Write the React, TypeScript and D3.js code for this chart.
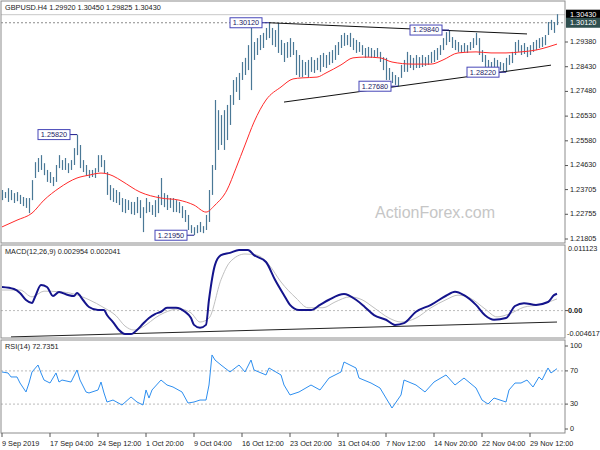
import React from "react";
import * as d3 from "d3";

const W = 600;
const H = 450;

// ---------- DATA ----------
const barHigh = [
  1.2369, 1.2361, 1.2376, 1.2369, 1.2357, 1.2361, 1.2350, 1.2342, 1.2338, 1.2338,
  1.2407, 1.2476, 1.2492, 1.2503, 1.2472, 1.2446, 1.2438, 1.2419, 1.2465, 1.2503,
  1.2484, 1.2492, 1.2472, 1.2484, 1.2530, 1.2582, 1.2542, 1.2484, 1.2465, 1.2446,
  1.2446, 1.2453, 1.2503, 1.2503, 1.2484, 1.2438, 1.2388, 1.2376, 1.2369, 1.2361,
  1.2338, 1.2334, 1.2330, 1.2323, 1.2323, 1.2342, 1.2330, 1.2303, 1.2338, 1.2323,
  1.2311, 1.2330, 1.2350, 1.2415, 1.2357, 1.2350, 1.2338, 1.2338, 1.2330, 1.2323,
  1.2307, 1.2292, 1.2273, 1.2234, 1.2226, 1.2234, 1.2246, 1.2230, 1.2273, 1.2369,
  1.2465, 1.2715, 1.2676, 1.2657, 1.2676, 1.2696, 1.2734, 1.2792, 1.2803, 1.2819,
  1.2861, 1.2877, 1.2926, 1.2992, 1.2938, 1.2953, 1.2965, 1.2973, 1.2992, 1.3012,
  1.2992, 1.2984, 1.3011, 1.2946, 1.2934, 1.2938, 1.2953, 1.2938, 1.2907, 1.2888,
  1.2869, 1.2861, 1.2869, 1.2880, 1.2869, 1.2877, 1.2888, 1.2896, 1.2888, 1.2900,
  1.2907, 1.2926, 1.2938, 1.2965, 1.2973, 1.2965, 1.2973, 1.2953, 1.2946, 1.2938,
  1.2926, 1.2915, 1.2919, 1.2915, 1.2907, 1.2915, 1.2900, 1.2880, 1.2877, 1.2838,
  1.2823, 1.2811, 1.2803, 1.2850, 1.2869, 1.2900, 1.2888, 1.2877, 1.2888, 1.2880,
  1.2888, 1.2880, 1.2888, 1.2900, 1.2907, 1.2915, 1.2926, 1.2953, 1.2976, 1.2984,
  1.2957, 1.2946, 1.2938, 1.2926, 1.2934, 1.2926, 1.2938, 1.2953, 1.2973, 1.2953,
  1.2907, 1.2888, 1.2869, 1.2861, 1.2877, 1.2869, 1.2861, 1.2857, 1.2877, 1.2888,
  1.2900, 1.2938, 1.2946, 1.2926, 1.2934, 1.2919, 1.2926, 1.2938, 1.2946, 1.2953,
  1.2957, 1.2965, 1.3015, 1.3023, 1.3015, 1.3045,
];
const barLow = [
  1.2330, 1.2338, 1.2323, 1.2330, 1.2319, 1.2326, 1.2315, 1.2307, 1.2300, 1.2280,
  1.2330, 1.2415, 1.2438, 1.2446, 1.2426, 1.2400, 1.2396, 1.2384, 1.2400, 1.2453,
  1.2446, 1.2446, 1.2434, 1.2446, 1.2465, 1.2503, 1.2453, 1.2438, 1.2423, 1.2415,
  1.2419, 1.2415, 1.2438, 1.2457, 1.2434, 1.2350, 1.2330, 1.2323, 1.2319, 1.2311,
  1.2284, 1.2280, 1.2292, 1.2276, 1.2273, 1.2280, 1.2261, 1.2207, 1.2280, 1.2284,
  1.2273, 1.2265, 1.2280, 1.2311, 1.2303, 1.2292, 1.2300, 1.2284, 1.2284, 1.2280,
  1.2261, 1.2246, 1.2215, 1.2203, 1.2195, 1.2203, 1.2207, 1.2203, 1.2215, 1.2246,
  1.2350, 1.2446, 1.2523, 1.2542, 1.2523, 1.2561, 1.2619, 1.2696, 1.2746, 1.2715,
  1.2792, 1.2811, 1.2830, 1.2753, 1.2869, 1.2888, 1.2907, 1.2915, 1.2946, 1.2953,
  1.2926, 1.2919, 1.2896, 1.2888, 1.2861, 1.2877, 1.2880, 1.2888, 1.2811, 1.2803,
  1.2803, 1.2811, 1.2803, 1.2823, 1.2819, 1.2830, 1.2823, 1.2842, 1.2838, 1.2850,
  1.2857, 1.2869, 1.2888, 1.2915, 1.2923, 1.2926, 1.2919, 1.2907, 1.2896, 1.2900,
  1.2888, 1.2877, 1.2880, 1.2877, 1.2877, 1.2880, 1.2861, 1.2830, 1.2792, 1.2792,
  1.2780, 1.2773, 1.2768, 1.2800, 1.2823, 1.2823, 1.2838, 1.2830, 1.2838, 1.2838,
  1.2842, 1.2846, 1.2850, 1.2857, 1.2861, 1.2869, 1.2888, 1.2907, 1.2926, 1.2938,
  1.2915, 1.2907, 1.2900, 1.2896, 1.2900, 1.2896, 1.2907, 1.2915, 1.2926, 1.2888,
  1.2861, 1.2842, 1.2830, 1.2823, 1.2830, 1.2823, 1.2830, 1.2826, 1.2822, 1.2850,
  1.2857, 1.2888, 1.2900, 1.2888, 1.2892, 1.2880, 1.2888, 1.2900, 1.2907, 1.2915,
  1.2919, 1.2926, 1.2965, 1.2984, 1.2973, 1.3003,
];

const maBars = [0, 5, 10, 14, 19, 25, 29, 33, 37, 40, 46, 53, 59, 64, 68, 71, 75, 78, 81, 84, 88, 93, 97, 100, 105, 108, 113, 117, 121, 126, 130, 137, 143, 147, 152, 158, 163, 168, 173, 178, 182, 185];
const maValues = [1.2227, 1.2253, 1.2280, 1.2330, 1.2376, 1.2415, 1.2426, 1.2434, 1.2423, 1.2403, 1.2361, 1.2338, 1.2330, 1.2311, 1.2284, 1.2311, 1.2369, 1.2453, 1.2542, 1.2630, 1.2715, 1.2765, 1.2796, 1.2800, 1.2803, 1.2819, 1.2850, 1.2877, 1.2880, 1.2877, 1.2861, 1.2853, 1.2853, 1.2869, 1.2896, 1.2900, 1.2896, 1.2896, 1.2900, 1.2907, 1.2919, 1.2930];

const macdBars = [0, 4, 6, 8, 10, 11, 13, 15, 17, 19, 22, 24, 25, 27, 29, 32, 34, 35, 37, 39, 41, 43, 45, 47, 49, 51, 53, 55, 58, 61, 63, 64, 66, 68, 69, 71, 73, 76, 79, 82, 84, 88, 91, 94, 96, 99, 103, 106, 109, 114, 118, 121, 124, 128, 131, 134, 138, 143, 148, 151, 154, 158, 161, 164, 168, 171, 174, 178, 182, 184, 185];
const macdValues = [0.00413, 0.00378, 0.00308, 0.00185, 0.00133, 0.00238, 0.00448, 0.00413, 0.00255, 0.00325, 0.00273, 0.00255, 0.00308, 0.00185, 0.00063, 0.0001, 0.0001, -0.00077, -0.0020, -0.0034, -0.0041, -0.0041, -0.0034, -0.0023, -0.0013, -0.0006, -0.0002, 0.0005, 0.0005, -0.0002, -0.0013, -0.0025, -0.0030, -0.0025, 0.0019, 0.0080, 0.0097, 0.0101, 0.0106, 0.0106, 0.0097, 0.0085, 0.0054, 0.0027, 0.0010, 0.0001, 0.0001, 0.0010, 0.0019, 0.0029, 0.0019, 0.0006, -0.0008, -0.0016, -0.0025, -0.0022, -0.0002, 0.0010, 0.0026, 0.0033, 0.0027, 0.0010, -0.0008, -0.0016, -0.0013, 0.0008, 0.0013, 0.0010, 0.0015, 0.0027, 0.002954];

const signalBars = [0, 6, 10, 14, 19, 24, 29, 34, 38, 41, 44, 48, 51, 54, 59, 63, 66, 69, 73, 76, 81, 85, 89, 93, 98, 102, 107, 111, 116, 120, 124, 129, 133, 138, 143, 148, 152, 156, 161, 165, 169, 174, 179, 185];
const signalValues = [0.0036, 0.0036, 0.0024, 0.0034, 0.0033, 0.0029, 0.0019, 0.0005, -0.0009, -0.0027, -0.0034, -0.0025, -0.0013, -0.0004, 0.0003, -0.0004, -0.0020, -0.0013, 0.0054, 0.0085, 0.0099, 0.0097, 0.0080, 0.0050, 0.0022, 0.0005, 0.0005, 0.0015, 0.0024, 0.0019, 0.0005, -0.0013, -0.0020, -0.0013, 0.0005, 0.0019, 0.0027, 0.0022, 0.0003, -0.0011, -0.0006, 0.0006, 0.0010, 0.002041];

const macdTrendBars = [3, 185];
const macdTrendValues = [-0.0046, -0.0020];

const rsiBars = [0, 2, 3, 5, 6, 8, 9, 10, 12, 13, 14, 16, 18, 19, 20, 23, 25, 26, 28, 29, 32, 33, 34, 35, 37, 40, 43, 45, 47, 48, 49, 50, 53, 55, 57, 60, 62, 64, 66, 68, 69, 70, 71, 73, 76, 79, 81, 83, 84, 88, 89, 93, 94, 96, 99, 103, 106, 109, 113, 114, 118, 119, 123, 126, 128, 130, 133, 134, 138, 141, 144, 148, 151, 154, 158, 160, 162, 164, 168, 169, 171, 173, 175, 177, 179, 180, 182, 183, 185];
const rsiValues = [68.7, 67.5, 62.7, 62.7, 55.4, 44.6, 55.4, 68.7, 77.1, 67.5, 59.0, 55.4, 67.5, 56.6, 59.0, 56.6, 71.1, 59.0, 44.6, 43.4, 47.0, 56.6, 43.4, 32.5, 34.9, 28.9, 38.6, 32.5, 28.9, 47.0, 37.3, 47.0, 59.0, 53.0, 50.6, 44.6, 31.3, 32.5, 34.9, 34.9, 53.0, 89.2, 83.1, 77.1, 68.7, 77.1, 68.7, 83.1, 71.1, 65.1, 73.5, 65.1, 53.0, 41.0, 44.6, 53.0, 47.0, 61.4, 68.7, 80.7, 73.5, 61.4, 55.4, 49.4, 37.3, 25.3, 41.0, 59.0, 53.0, 44.6, 56.6, 65.1, 53.0, 61.4, 49.4, 34.9, 30.1, 37.3, 32.5, 47.0, 55.4, 55.4, 59.0, 50.6, 62.7, 59.0, 73.5, 67.5, 72.7];

const priceTicks = [1.2938, 1.2843, 1.2748, 1.2653, 1.2558, 1.2463, 1.23705, 1.22755, 1.21805];
const priceTickLabels = ["1.29380", "1.28430", "1.27480", "1.26530", "1.25580", "1.24630", "1.23705", "1.22755", "1.21805"];

const upperTrendBars = [89, 175];
const upperTrendPrices = [1.3012, 1.2969];
const lowerTrendBars = [94, 183];
const lowerTrendPrices = [1.2707, 1.2849];

const labelBars = [89, 149, 168, 132, 25, 64];
const labelPrices = [1.3012, 1.2984, 1.2822, 1.2768, 1.2582, 1.2195];
const labelTexts = ["1.30120", "1.29840", "1.28220", "1.27680", "1.25820", "1.21950"];

const timeLabelBars = [0, 16, 32, 48, 64, 80, 96, 112, 128, 144, 160, 176];
const timeLabels = ["9 Sep 2019", "17 Sep 04:00", "24 Sep 12:00", "1 Oct 20:00", "9 Oct 04:00", "16 Oct 12:00", "23 Oct 20:00", "31 Oct 04:00", "7 Nov 12:00", "14 Nov 20:00", "22 Nov 04:00", "29 Nov 12:00"];

const bidPrice = 1.3043;
const highMark = 1.3012;
const macdMax = 0.011123;
const macdMin = -0.004617;
const rsiLevels = [70, 30];

// ---------- LAYOUT ----------
const left = 1;
const right = 565;
const mainTop = 1, mainBottom = 243;
const macdTop = 245, macdBottom = 338;
const rsiTop = 340, rsiBottom = 433;
const FONT = "'Liberation Sans', Arial, sans-serif";
const BAR = "#4a7896";

export default function App() {
  const x = d3.scaleLinear().domain([0, barHigh.length - 1]).range([2, 557]);
  const yMain = d3.scaleLinear().domain([1.21805, 1.2938]).range([239, 42]);
  const yMacd = d3.scaleLinear().domain([macdMin, macdMax]).range([337, 247]);
  const yRsi = d3.scaleLinear().domain([0, 100]).range([429, 346]);

  const maLine = d3.line<number>().x((_, i) => x(maBars[i])).y((d) => yMain(d)).curve(d3.curveMonotoneX)(maValues) || "";
  const macdLine = d3.line<number>().x((_, i) => x(macdBars[i])).y((d) => yMacd(d)).curve(d3.curveMonotoneX)(macdValues) || "";
  const sigLine = d3.line<number>().x((_, i) => x(signalBars[i])).y((d) => yMacd(d)).curve(d3.curveMonotoneX)(signalValues) || "";
  const rsiLine = d3.line<number>().x((_, i) => x(rsiBars[i])).y((d) => yRsi(d))(rsiValues) || "";

  const fs = 7.3;
  const txt = "#222";

  return (
    <svg width={W} height={H} style={{ position: "absolute", left: 0, top: 0, background: "#fff" }} fontFamily={FONT}>
      <defs>
        <clipPath id="cMain"><rect x={left} y={mainTop} width={right - left} height={mainBottom - mainTop} /></clipPath>
        <clipPath id="cMacd"><rect x={left} y={macdTop} width={right - left} height={macdBottom - macdTop} /></clipPath>
        <clipPath id="cRsi"><rect x={left} y={rsiTop} width={right - left} height={rsiBottom - rsiTop} /></clipPath>
      </defs>
      <rect x={0} y={0} width={W} height={H} fill="#fff" />

      {/* watermark */}
      <text x={435} y={218} textAnchor="middle" fontSize={16} fill="#c6c6c6" fontFamily={FONT}>ActionForex.com</text>

      {/* MAIN PANEL */}
      <g clipPath="url(#cMain)">
        <line x1={left} x2={right} y1={yMain(bidPrice)} y2={yMain(bidPrice)} stroke="#c8c8c8" strokeWidth={1} />
        <line x1={left} x2={right} y1={yMain(highMark)} y2={yMain(highMark)} stroke="#8a8a8a" strokeWidth={1} strokeDasharray="2,2" />
        {barHigh.map((h, i) => (
          <line key={i} x1={x(i) + 0.5} x2={x(i) + 0.5} y1={yMain(h)} y2={yMain(barLow[i])} stroke={BAR} strokeWidth={1.2} />
        ))}
        <path d={maLine} fill="none" stroke="#ff2a2a" strokeWidth={1} />
        <line x1={x(upperTrendBars[0])} y1={yMain(upperTrendPrices[0])} x2={x(upperTrendBars[1])} y2={yMain(upperTrendPrices[1])} stroke="#111" strokeWidth={1} />
        <line x1={x(lowerTrendBars[0])} y1={yMain(lowerTrendPrices[0])} x2={x(lowerTrendBars[1])} y2={yMain(lowerTrendPrices[1])} stroke="#111" strokeWidth={1} />
        {labelBars.map((b, i) => {
          const px = x(b);
          const py = yMain(labelPrices[i]);
          const bw = 32, bh = 10;
          const bx = px - 7 - bw;
          return (
            <g key={i}>
              <line x1={bx + bw} x2={px} y1={py} y2={py} stroke="#1c1c8c" strokeWidth={1} />
              <rect x={bx} y={py - bh / 2} width={bw} height={bh} fill="#fff" stroke="#4747b8" strokeWidth={1} />
              <text x={bx + bw / 2} y={py + 0.5} textAnchor="middle" dominantBaseline="middle" fontSize={fs} fill="#222266">{labelTexts[i]}</text>
            </g>
          );
        })}
      </g>
      <rect x={left} y={mainTop} width={right - left} height={mainBottom - mainTop} fill="none" stroke="#8c8c8c" />
      <text x={5} y={10} fontSize={fs} fill={txt}>GBPUSD.H4  1.29920 1.30450 1.29825 1.30430</text>

      {priceTicks.map((p, i) => (
        <g key={i}>
          <line x1={right} x2={right + 3} y1={yMain(p)} y2={yMain(p)} stroke="#555" />
          <text x={right + 5} y={yMain(p)} dominantBaseline="middle" fontSize={fs} fill={txt}>{priceTickLabels[i]}</text>
        </g>
      ))}
      <rect x={right + 1} y={yMain(bidPrice) - 5} width={34} height={10} fill="#000" />
      <text x={right + 5} y={yMain(bidPrice) + 0.5} dominantBaseline="middle" fontSize={fs} fill="#fff">1.30430</text>
      <rect x={right + 1} y={yMain(highMark) - 5} width={34} height={10} fill="#2f4f4f" />
      <text x={right + 5} y={yMain(highMark) + 0.5} dominantBaseline="middle" fontSize={fs} fill="#fff">1.30120</text>

      {/* MACD PANEL */}
      <g clipPath="url(#cMacd)">
        <line x1={left} x2={right} y1={yMacd(0)} y2={yMacd(0)} stroke="#bbb" strokeDasharray="2,2" />
        <line x1={x(macdTrendBars[0])} y1={yMacd(macdTrendValues[0])} x2={x(macdTrendBars[1])} y2={yMacd(macdTrendValues[1])} stroke="#222" strokeWidth={1} />
        <path d={sigLine} fill="none" stroke="#c0c0c0" strokeWidth={1} />
        <path d={macdLine} fill="none" stroke="#14148c" strokeWidth={2} />
      </g>
      <rect x={left} y={macdTop} width={right - left} height={macdBottom - macdTop} fill="none" stroke="#8c8c8c" />
      <text x={5} y={254} fontSize={fs} fill={txt}>MACD(12,26,9) 0.002954 0.002041</text>
      <text x={right + 3} y={249} dominantBaseline="middle" fontSize={fs} fill={txt}>0.011123</text>
      <line x1={right} x2={right + 3} y1={yMacd(0)} y2={yMacd(0)} stroke="#555" />
      <text x={right + 3} y={yMacd(0)} dominantBaseline="middle" fontSize={fs} fill={txt} fontWeight="bold">0.00</text>
      <text x={right + 2} y={334} dominantBaseline="middle" fontSize={fs} fill={txt}>-0.004617</text>

      {/* RSI PANEL */}
      <g clipPath="url(#cRsi)">
        {rsiLevels.map((l) => (
          <line key={l} x1={left} x2={right} y1={yRsi(l)} y2={yRsi(l)} stroke="#bbb" strokeDasharray="2,2" />
        ))}
        <path d={rsiLine} fill="none" stroke="#2e8ff0" strokeWidth={1} />
      </g>
      <rect x={left} y={rsiTop} width={right - left} height={rsiBottom - rsiTop} fill="none" stroke="#8c8c8c" />
      <text x={5} y={349} fontSize={fs} fill={txt}>RSI(14) 72.7351</text>
      {[100, 70, 30, 0].map((v) => (
        <g key={v}>
          <line x1={right} x2={right + 3} y1={yRsi(v)} y2={yRsi(v)} stroke="#555" />
          <text x={right + 5} y={yRsi(v)} dominantBaseline="middle" fontSize={fs} fill={txt}>{v}</text>
        </g>
      ))}

      {/* TIME AXIS */}
      {timeLabelBars.map((b, i) => (
        <g key={i}>
          <line x1={x(b)} x2={x(b)} y1={rsiBottom} y2={rsiBottom + 4} stroke="#555" />
          <text x={x(b)} y={444} dominantBaseline="middle" fontSize={fs} fill={txt}>{timeLabels[i]}</text>
        </g>
      ))}
    </svg>
  );
}
